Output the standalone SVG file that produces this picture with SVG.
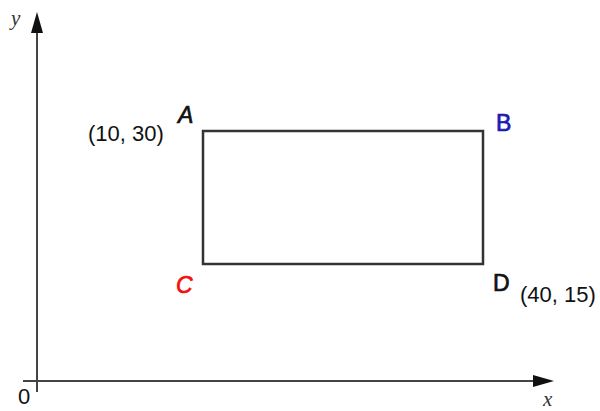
<svg xmlns="http://www.w3.org/2000/svg" width="600" height="411" viewBox="0 0 600 411">
<style>
.ax{stroke:#444;stroke-width:2;fill:none}
.head{fill:#111}
.lbl{font-family:"Liberation Sans",Arial,sans-serif;font-size:23px;stroke-width:0.7}
.coord{font-family:"Liberation Sans",Arial,sans-serif;font-size:22px;fill:#111}
.var{font-family:"Liberation Serif","Times New Roman",serif;font-size:21px;font-style:italic;fill:#333}
</style>
<g id="connectors">
<line class="ax" x1="37" y1="392" x2="37" y2="30"/>
<path class="head" d="M31,33 L37,12 L43,33 Z"/>
<line class="ax" x1="23" y1="381" x2="536" y2="381"/>
<path class="head" d="M533,375 L554,381 L533,387 Z"/>
</g>
<g id="rect">
<rect x="203" y="131" width="280" height="133" fill="none" stroke="#333" stroke-width="2.5"/>
</g>
<g id="labels">
<text class="var" x="11" y="25">y</text>
<text class="var" x="543" y="406">x</text>
<text class="coord" x="18" y="404">0</text>
<text class="coord" x="88" y="141">(10, 30)</text>
<text class="coord" x="520" y="302">(40, 15)</text>
<text class="lbl" x="178" y="123" fill="#111" stroke="#111" font-style="italic">A</text>
<text class="lbl" x="496" y="131" fill="#1a1ab0" stroke="#1a1ab0">B</text>
<text class="lbl" x="176" y="293" fill="#f01010" stroke="#f01010" font-style="italic">C</text>
<text class="lbl" x="493" y="291" fill="#111" stroke="#111">D</text>
</g>
</svg>
